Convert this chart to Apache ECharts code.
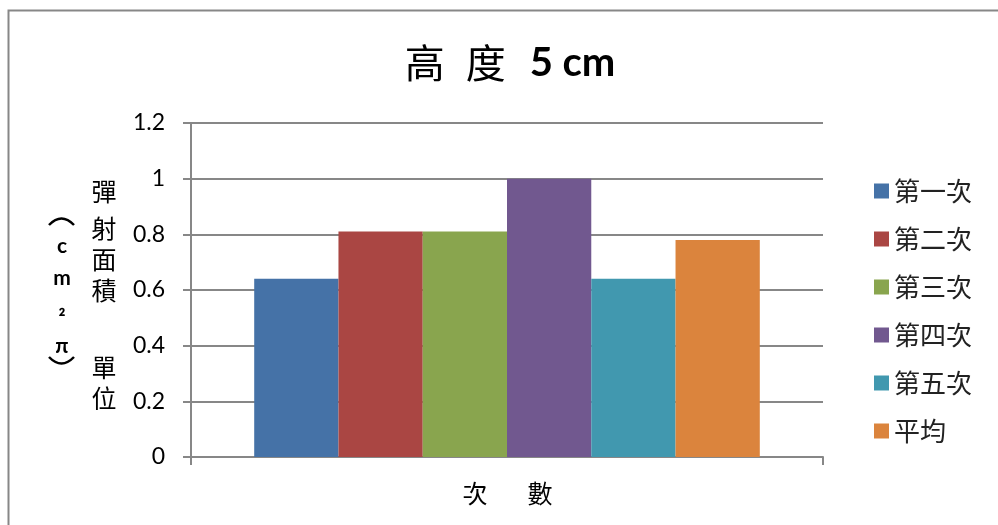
<!DOCTYPE html>
<html>
<head>
<meta charset="utf-8">
<script src="https://cdn.jsdelivr.net/npm/echarts@6/dist/echarts.min.js"></script>
<style>
  html, body { margin: 0; padding: 0; background: #fff; }
  #chart { width: 998px; height: 525px; }
</style>
</head>
<body>
<div id="chart"></div>
<script>
// Ejection area per trial, single drop height (5 cm)
const seriesNames = ['第一次', '第二次', '第三次', '第四次', '第五次', '平均'];
const seriesValues = [0.64, 0.81, 0.81, 1.0, 0.64, 0.78];
const seriesColors = ['#4572A7', '#AA4643', '#89A54E', '#71588F', '#4198AF', '#DB843D'];
const categories = [''];
const yTicks = { min: 0, max: 1.2, interval: 0.2 };

const cjk = '"Noto Sans CJK TC", "Noto Sans CJK SC", sans-serif';
const latin = 'Lato, "Open Sans", sans-serif';
const gray = '#878787';

const chart = echarts.init(document.getElementById('chart'), null, { renderer: 'canvas' });

const series = seriesNames.map((name, i) => ({
  name: name,
  type: 'bar',
  data: [seriesValues[i]],
  itemStyle: { color: seriesColors[i] },
  barGap: '0%',
  barCategoryGap: '20%'
}));

// Vertical axis title, laid out as two stacked columns
const yTitleRight = [['彈', 191], ['射', 228], ['面', 259], ['積', 290], ['單', 367], ['位', 398]];
const yTitleLeft = [['c', 246], ['m', 278], ['₂', 307], ['π', 346]];
const graphics = [
  {
    type: 'rect', left: 6, top: 8, silent: true,
    shape: { width: 1000, height: 530 },
    style: { fill: 'none', stroke: gray, lineWidth: 2 }
  }
];
yTitleRight.forEach(([ch, y]) => graphics.push({
  type: 'text', x: 104, y: y, silent: true,
  style: { text: ch, font: '25px ' + cjk, fill: '#000', align: 'center', verticalAlign: 'middle' }
}));
yTitleLeft.forEach(([ch, y]) => graphics.push({
  type: 'text', x: 62, y: y, silent: true,
  style: { text: ch, font: 'bold 21px ' + latin, fill: '#000', align: 'center', verticalAlign: 'middle' }
}));
// Sideways brackets around the unit column
graphics.push({
  type: 'bezierCurve', silent: true,
  shape: { x1: 49, y1: 225, x2: 74, y2: 225, cpx1: 61.5, cpy1: 212 },
  style: { fill: 'none', stroke: '#000', lineWidth: 2.5 }
});
graphics.push({
  type: 'bezierCurve', silent: true,
  shape: { x1: 49, y1: 357, x2: 74, y2: 357, cpx1: 61.5, cpy1: 370 },
  style: { fill: 'none', stroke: '#000', lineWidth: 2.5 }
});
graphics.push({
  type: 'text', x: 475, y: 493, silent: true,
  style: { text: '次', font: '25px ' + cjk, fill: '#000', align: 'center', verticalAlign: 'middle' }
});
graphics.push({
  type: 'text', x: 540, y: 493, silent: true,
  style: { text: '數', font: '25px ' + cjk, fill: '#000', align: 'center', verticalAlign: 'middle' }
});

chart.setOption({
  animation: false,
  backgroundColor: '#fff',
  title: {
    text: '{c|高}{c2|度}{b|5 cm}',
    left: 505,
    textAlign: 'center',
    top: 38,
    textStyle: {
      rich: {
        c: { fontFamily: cjk, fontWeight: 'normal', fontSize: 40, color: '#000', padding: [0, 21, 0, 0] },
        c2: { fontFamily: cjk, fontWeight: 'normal', fontSize: 40, color: '#000', padding: [0, 24, 0, 0] },
        b: { fontFamily: latin, fontWeight: 'bold', fontSize: 40, color: '#000' }
      }
    }
  },
  legend: {
    orient: 'vertical',
    left: 869,
    top: 173,
    itemWidth: 15,
    itemHeight: 15,
    itemGap: 22,
    icon: 'rect',
    data: seriesNames,
    textStyle: { fontFamily: cjk, fontSize: 26, color: '#222', padding: [0, 0, 0, 0] }
  },
  grid: { left: 191, right: 175, top: 123, bottom: 68, containLabel: false },
  xAxis: {
    type: 'category',
    data: categories,
    boundaryGap: true,
    axisLine: { lineStyle: { color: gray, width: 2 } },
    axisTick: { show: true, length: 8, alignWithLabel: false, lineStyle: { color: gray, width: 2 } },
    axisLabel: { show: false }
  },
  yAxis: {
    type: 'value',
    min: yTicks.min,
    max: yTicks.max,
    interval: yTicks.interval,
    axisLine: { show: true, lineStyle: { color: gray, width: 2 } },
    axisTick: { show: true, length: 8, lineStyle: { color: gray, width: 2 } },
    axisLabel: {
      margin: 26,
      fontFamily: latin,
      fontSize: 23,
      color: '#000',
      formatter: v => String(Math.round(v * 10) / 10)
    },
    splitLine: { show: true, lineStyle: { color: gray, width: 2 } }
  },
  series: series,
  graphic: graphics
});
</script>
</body>
</html>
